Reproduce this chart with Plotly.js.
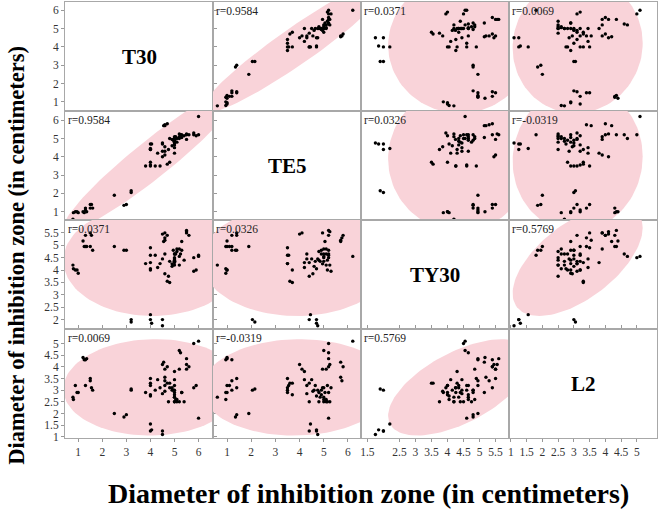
<!DOCTYPE html>
<html><head><meta charset="utf-8">
<script src="https://cdn.plot.ly/plotly-3.0.1.min.js"></script>
<style>html,body{margin:0;padding:0;background:#fff}#chart{width:658px;height:509px}</style>
</head><body><div id="chart"></div>
<script>
const variables = ["T30", "TE5", "TY30", "L2"];
const T30 = [0.78,0.8,0.88,0.95,1.0,1.2,1.25,1.3,1.35,1.3,1.5,1.5,1.55,1.6,2.5,2.9,3.0,3.2,3.2,4.0,4.0,4.05,4.5,4.5,
  3.8,4.0,4.0,4.0,4.2,4.4,4.0,4.0,4.5,4.6,4.6,4.7,4.8,4.6,4.75,4.9,5.0,5.0,5.0,5.0,5.0,5.0,5.0,5.1,5.1,5.2,5.25,5.2,5.3,5.3,
  5.4,5.5,5.5,5.5,5.6,5.2,5.8,6.0,5.9,5.8,6.0,4.6,4.6,4.7,4.55,4.8,4.5,4.3,
  5.0,5.0,4.95,5.05,5.0,4.9];
const TE5 = [0.6,0.95,1.0,1.0,0.95,1.0,0.95,1.2,1.0,1.1,1.4,1.2,1.4,1.2,1.9,1.35,1.4,2.05,2.15,4.45,4.4,4.7,4.7,4.75,
  3.5,3.5,3.55,3.7,3.5,3.5,4.4,4.7,4.0,4.1,4.3,3.6,3.7,4.55,4.4,4.6,4.2,4.5,4.65,4.75,4.9,5.0,5.1,4.8,5.0,5.0,5.2,5.1,5.2,5.05,
  5.15,5.2,5.25,4.95,5.2,5.25,5.2,6.2,5.15,5.3,5.2,5.7,5.75,5.8,5.7,5.0,4.3,4.2,
  4.85,5.0,4.9,5.1,4.8,4.95];
const TY30 = [4.2,4.05,4.0,4.0,3.87,5.17,4.95,5.4,4.95,4.95,5.5,4.95,5.4,4.8,4.95,4.8,4.8,2.0,1.9,2.2,2.0,1.85,2.0,1.75,
  4.26,4.9,4.6,4.0,4.6,4.26,4.3,4.05,5.45,5.5,4.65,3.55,3.5,3.85,3.75,4.15,4.3,4.45,4.35,4.45,4.65,4.65,4.2,4.75,4.85,4.55,4.65,4.85,4.8,5.15,
  4.4,5.6,5.55,5.5,5.4,4.2,4.5,4.55,4.0,3.95,4.6,5.2,5.3,5.4,5.15,4.35,4.45,4.1,
  4.35,4.5,4.8,4.65,4.4,4.25];
const L2 = [2.7,2.6,3.2,2.9,2.9,4.4,4.3,4.3,4.35,3.2,3.5,3.4,3.1,3.0,2.0,1.85,1.95,3.0,3.05,1.55,1.25,1.3,1.25,1.1,
  2.9,3.5,3.2,2.8,3.0,3.1,3.3,2.75,4.1,3.9,3.2,3.3,3.3,2.95,2.5,3.0,3.8,3.45,3.2,3.0,2.8,2.7,2.5,2.5,2.6,4.7,4.6,3.9,2.9,2.9,
  2.5,4.35,4.1,3.9,4.0,2.5,5.0,5.1,3.2,3.1,1.8,3.55,3.4,4.0,4.2,3.1,2.85,3.45,
  2.7,2.5,3.0,2.6,2.9,3.1];
const rLabels = [
  [null, "r=0.9584", "r=0.0371", "r=0.0069"],
  ["r=0.9584", null, "r=0.0326", "r=-0.0319"],
  ["r=0.0371", "r=0.0326", null, "r=0.5769"],
  ["r=0.0069", "r=-0.0319", "r=0.5769", null]
];
const tickValsT30 = [1, 2, 3, 4, 5, 6];
const tickValsTE5 = [1, 2, 3, 4, 5, 6];
const tickValsTY30x = [1.5, 2.5, 3, 3.5, 4, 4.5, 5, 5.5];
const tickValsTY30y = [2, 2.5, 3, 3.5, 4, 4.5, 5, 5.5];
const tickValsL2 = [1, 1.5, 2, 2.5, 3, 3.5, 4, 4.5, 5];
const axisTitle = "Diameter of inhibition zone (in centimeters)";

const data = [T30, TE5, TY30, L2];
const xRanges = [[0.45, 6.6], [0.42, 6.54], [1.3, 5.92], [0.94, 5.64]];
const yRanges = [[0.5, 6.45], [0.55, 6.5], [1.62, 6.02], [0.95, 5.62]];
const xTicks = [tickValsT30, tickValsTE5, tickValsTY30x, tickValsL2];
const yTicks = [tickValsT30, tickValsTE5, tickValsTY30y, tickValsL2];

function stats(a) {
  const n = a.length, m = a.reduce((s, v) => s + v, 0) / n;
  const sd = Math.sqrt(a.reduce((s, v) => s + (v - m) * (v - m), 0) / (n - 1));
  return [m, sd];
}
function ellipse(xs, ys) {
  const [mx, sx] = stats(xs), [my, sy] = stats(ys);
  let cov = 0;
  for (let i = 0; i < xs.length; i++) cov += (xs[i] - mx) * (ys[i] - my);
  cov /= (xs.length - 1);
  const r = cov / (sx * sy), c = Math.sqrt(5.991464547);
  const ex = [], ey = [];
  for (let k = 0; k <= 120; k++) {
    const t = 2 * Math.PI * k / 120;
    ex.push(mx + c * sx * Math.cos(t));
    ey.push(my + c * sy * (r * Math.cos(t) + Math.sqrt(1 - r * r) * Math.sin(t)));
  }
  return [ex, ey];
}
const xName = j => j === 0 ? "x" : "x" + (j + 1);
const yName = i => i === 0 ? "y" : "y" + (i + 1);

const traces = [], annotations = [];
const serif = "Liberation Serif";
for (let i = 0; i < 4; i++) {
  for (let j = 0; j < 4; j++) {
    if (i === j) {
      traces.push({x: [null], y: [null], xaxis: xName(j), yaxis: yName(i), mode: "markers", hoverinfo: "skip"});
      annotations.push({xref: xName(j) + " domain", yref: yName(i) + " domain", x: 0.5, y: 0.5,
        text: "<b>" + variables[i] + "</b>", showarrow: false, font: {family: serif, size: 21, color: "#000"}});
      continue;
    }
    const [ex, ey] = ellipse(data[j], data[i]);
    traces.push({x: ex, y: ey, xaxis: xName(j), yaxis: yName(i), mode: "lines", fill: "toself",
      fillcolor: "#f9d3d9", line: {width: 0, color: "#f9d3d9"}, hoverinfo: "skip"});
    traces.push({x: data[j], y: data[i], xaxis: xName(j), yaxis: yName(i), mode: "markers",
      marker: {size: 3.4, color: "#000"}, hoverinfo: "skip"});
    annotations.push({xref: xName(j) + " domain", yref: yName(i) + " domain", x: 0, y: 1, xanchor: "left", yanchor: "top",
      xshift: 1, yshift: -1, text: rLabels[i][j], showarrow: false, font: {family: serif, size: 11.5, color: "#222"}});
  }
}
annotations.push({xref: "paper", yref: "paper", x: 0.512, y: -0.128, xanchor: "center", yanchor: "middle",
  text: "<b>" + axisTitle + "</b>", showarrow: false, font: {family: serif, size: 28, color: "#000"}});
annotations.push({xref: "paper", yref: "paper", x: -0.081, y: 0.418, xanchor: "center", yanchor: "middle", textangle: -90,
  text: "<b>" + axisTitle + "</b>", showarrow: false, font: {family: serif, size: 22.5, color: "#000"}});

const axisBase = {showline: true, linecolor: "#a8a8a8", linewidth: 1, mirror: "all", ticks: "outside", ticklen: 3,
  tickcolor: "#999", showgrid: false, zeroline: false, tickfont: {family: serif, size: 11.5, color: "#333"}};
const layout = {width: 658, height: 509, margin: {l: 65, r: 1, t: 2, b: 71}, showlegend: false, hovermode: false,
  font: {family: serif}, paper_bgcolor: "#fff", plot_bgcolor: "#fff", annotations: annotations};
for (let k = 0; k < 4; k++) {
  layout[k === 0 ? "xaxis" : "xaxis" + (k + 1)] = Object.assign({}, axisBase, {domain: [k / 4, (k + 1) / 4], anchor: "y4",
    range: xRanges[k], tickvals: xTicks[k], ticktext: xTicks[k].map(String)});
  layout[k === 0 ? "yaxis" : "yaxis" + (k + 1)] = Object.assign({}, axisBase, {domain: [(3 - k) / 4, (4 - k) / 4], anchor: "x",
    range: yRanges[k], tickvals: yTicks[k], ticktext: yTicks[k].map(String)});
}
Plotly.newPlot("chart", traces, layout, {staticPlot: true, displayModeBar: false});
</script></body></html>
